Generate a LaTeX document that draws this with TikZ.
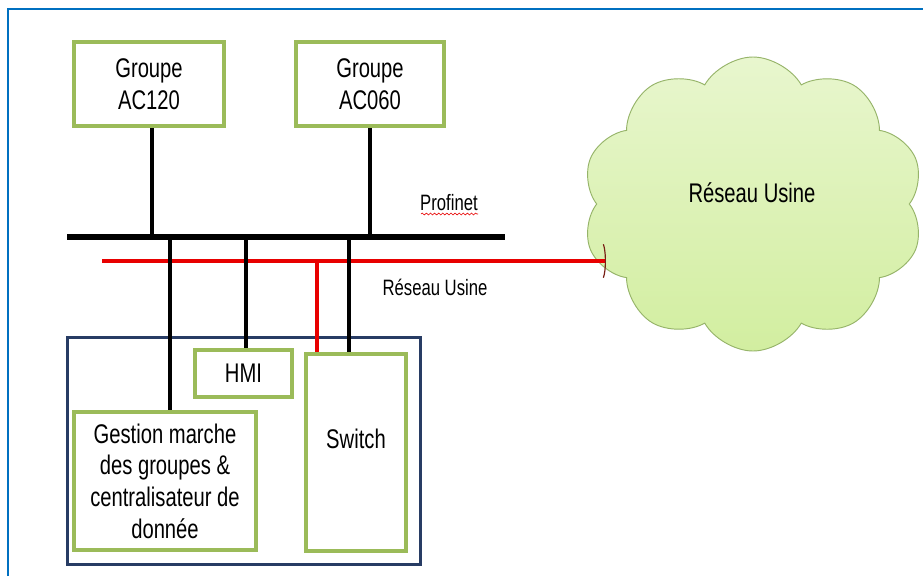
\documentclass[tikz,border=0pt]{standalone}
\usepackage{fontspec}
\setmainfont[FakeStretch=0.75]{Liberation Sans}
\usetikzlibrary{shapes.symbols,arrows.meta,decorations.pathmorphing}

\definecolor{boxgreen}{RGB}{155,187,89}
\definecolor{frameblue}{RGB}{0,112,192}
\definecolor{ctrlblue}{RGB}{40,60,100}
\definecolor{busred}{RGB}{232,0,0}
\definecolor{tipred}{RGB}{120,30,20}
\definecolor{cloudtop}{RGB}{232,246,206}
\definecolor{cloudbot}{RGB}{210,238,160}
\definecolor{cloudline}{RGB}{150,180,105}

\tikzset{
  unit/.style={draw=boxgreen, line width=3.4pt, fill=white, align=center,
    inner sep=0pt, font=\fontsize{23}{27}\selectfont},
  tap/.style={line width=3pt},
  small/.style={font=\fontsize{19}{22}\selectfont}
}

\begin{document}
\begin{tikzpicture}[x=0.03cm, y=-0.03cm]
%\draw[help lines, color=gray!30] (0,0) grid[step=50] (923,576);
\useasboundingbox (0,0) rectangle (923,576);
\fill[white] (0,0) rectangle (923,576);
\draw[frameblue, line width=2pt] (8,576) -- (8,9) -- (923,9);

% Groupes
\node[unit, minimum width=150*0.03cm, minimum height=84*0.03cm] (ac120) at (149,84) {Groupe\\AC120};
\node[unit, minimum width=148*0.03cm, minimum height=84*0.03cm] (ac060) at (370,84) {Groupe\\AC060};

% bus
\coordinate (busL) at (67,237);
\coordinate (busR) at (505,237);
\draw[line width=4.3pt] (busL) -- (busR);
\coordinate (redL) at (102,261);
\coordinate (redR) at (606,261);
\node[small] (profinet) at (449,203) {Profinet};
\draw[busred, line width=0.5pt, decorate, decoration={snake, amplitude=0.8, segment length=3.5}]
  (421,214) -- (478,214);
\node[small] (usine) at (435,287) {Réseau Usine};

% cloud
\node[cloud, cloud puffs=10, cloud puff arc=120, aspect=1.15, draw=cloudline, line width=0.8pt,
  top color=cloudtop, bottom color=cloudbot, minimum width=342*0.03cm, minimum height=294*0.03cm,
  inner sep=0pt] (cloud) at (753,204) {};
\node[font=\fontsize{23}{27}\selectfont] (cloudlbl) at (752,193) {Réseau Usine};
\draw[busred, line width=3.4pt, -{Parenthesis[width=34pt, length=4pt, line width=1pt, color=tipred]}]
  (redL) -- (redR);

% controleur
\node[draw=ctrlblue, line width=2.6pt, minimum width=353*0.03cm, minimum height=227*0.03cm] (ctrl) at (244,451) {};
\node[unit, minimum width=97*0.03cm, minimum height=47*0.03cm] (hmi) at (243.5,373.5) {HMI};
\node[unit, minimum width=182*0.03cm, minimum height=138*0.03cm] (gestion) at (165,481)
  {Gestion marche\\des groupes \&\\centralisateur de\\donnée};
\node[unit, minimum width=100*0.03cm, minimum height=197*0.03cm, text depth=28*0.03cm] (switch) at (356,452.5) {Switch};

% liaisons
\draw[tap] (ac120.south -| 152,0) -- (busL -| 152,0);
\draw[tap] (ac060.south) -- (ac060.south |- busL);
\coordinate (tapG) at (170,237);
\coordinate (tapH) at (246,237);
\coordinate (tapS) at (349,237);
\coordinate (tapR) at (317,261);
\draw[tap] (tapG) -- (tapG |- gestion.north);
\draw[tap] (tapH) -- (tapH |- hmi.north);
\draw[tap] (tapS) -- (tapS |- switch.north);
\draw[busred, tap] (tapR) -- (tapR |- switch.north);
\end{tikzpicture}
\end{document}
